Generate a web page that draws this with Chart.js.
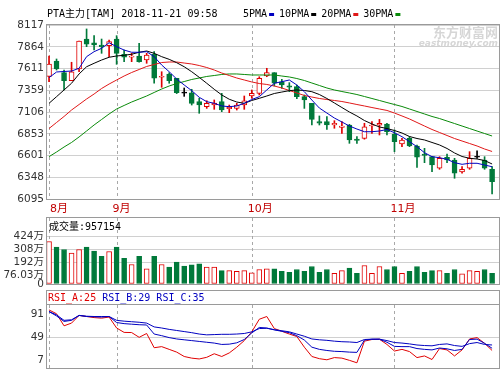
<!DOCTYPE html>
<html>
<head>
<meta charset="utf-8">
<script src="https://cdn.jsdelivr.net/npm/chart.js@4.4.1/dist/chart.umd.min.js"></script>
<style>
  html, body { margin: 0; padding: 0; background: #fff; }
  #box { position: relative; width: 504px; height: 377px; overflow: hidden; background: #fff; }
  #box canvas { position: absolute; left: 0; }
</style>
</head>
<body>
<div id="box">
  <canvas id="kline" width="504" height="216" style="top:0px"></canvas>
  <canvas id="vol" width="504" height="72" style="top:216px"></canvas>
  <canvas id="rsi" width="504" height="89" style="top:288px"></canvas>
</div>
<script>
// 月份 (first trading bar of each month)
const monthLabels = ["8月", "9月", "10月", "11月"];
const monthStarts = [0, 9, 27, 46];

// daily K line
const opens = [7520, 7699, 7563, 7470, 7606, 7954, 7911, 7885, 7877, 7954,
  7776, 7742, 7757, 7710, 7776, 7510, 7548, 7498, 7325, 7330,
  7226, 7168, 7187, 7226, 7145, 7148, 7187, 7292, 7323, 7524,
  7563, 7458, 7410, 7400, 7284, 7207, 6994, 6994, 6955, 6928,
  6955, 6790, 6800, 6943, 6952, 6967, 6850, 6735, 6800, 6711,
  6617, 6587, 6452, 6580, 6548, 6409, 6452, 6580, 6548, 6440];
const closes = [7664, 7606, 7470, 7574, 7931, 7893, 7885, 7865, 7923, 7788,
  7742, 7757, 7691, 7768, 7498, 7520, 7470, 7330, 7325, 7207,
  7187, 7207, 7210, 7129, 7160, 7187, 7237, 7323, 7498, 7563,
  7440, 7420, 7395, 7284, 7246, 7020, 6975, 6955, 6975, 6943,
  6781, 6775, 6935, 6955, 6975, 6877, 6761, 6781, 6711, 6580,
  6600, 6490, 6568, 6548, 6394, 6440, 6568, 6580, 6452, 6296];
const highs = [7757, 7722, 7594, 7684, 7931, 8071, 7993, 7954, 7943, 7993,
  7827, 7788, 7904, 7788, 7807, 7574, 7563, 7498, 7385, 7370,
  7265, 7237, 7246, 7323, 7187, 7207, 7292, 7362, 7516, 7614,
  7563, 7486, 7447, 7420, 7304, 7207, 7060, 7052, 7005, 6994,
  6963, 6820, 6975, 6994, 7020, 6975, 6897, 6800, 6820, 6723,
  6684, 6587, 6587, 6618, 6568, 6471, 6645, 6656, 6587, 6471];
const lows = [7459, 7594, 7362, 7470, 7574, 7865, 7827, 7788, 7749, 7660,
  7691, 7691, 7684, 7672, 7440, 7393, 7440, 7320, 7288, 7187,
  7091, 7148, 7137, 7110, 7098, 7129, 7137, 7265, 7304, 7516,
  7408, 7381, 7342, 7260, 7148, 6955, 6955, 6905, 6917, 6858,
  6742, 6742, 6790, 6858, 6839, 6839, 6645, 6703, 6703, 6463,
  6517, 6413, 6440, 6517, 6336, 6394, 6440, 6568, 6440, 6153];

// moving averages
const ma5 = [7505, 7571, 7577, 7582, 7614, 7749, 7807, 7846, 7911, 7865,
  7826, 7800, 7800, 7807, 7749, 7652, 7574, 7489, 7420, 7354,
  7277, 7226, 7207, 7176, 7168, 7176, 7207, 7251, 7284, 7362,
  7440, 7458, 7478, 7420, 7342, 7245, 7152, 7094, 7036, 6990,
  6943, 6908, 6877, 6877, 6885, 6903, 6865, 6819, 6761, 6703,
  6633, 6587, 6575, 6556, 6517, 6498, 6510, 6510, 6490, 6470];
const ma10 = [7207, 7284, 7362, 7440, 7548, 7632, 7672, 7710, 7742, 7757,
  7765, 7777, 7800, 7815, 7788, 7749, 7718, 7679, 7632, 7574,
  7509, 7440, 7370, 7304, 7254, 7222, 7207, 7240, 7265, 7292,
  7321, 7338, 7354, 7362, 7356, 7342, 7309, 7263, 7211, 7158,
  7106, 7060, 7007, 6967, 6932, 6914, 6891, 6862, 6821, 6798,
  6781, 6752, 6723, 6682, 6630, 6589, 6568, 6560, 6542, 6502];
const ma20 = [6914, 6984, 7054, 7129, 7193, 7257, 7315, 7379, 7431, 7478,
  7524, 7565, 7600, 7635, 7658, 7681, 7687, 7687, 7675, 7664,
  7646, 7623, 7594, 7559, 7530, 7501, 7478, 7455, 7437, 7426,
  7408, 7385, 7356, 7327, 7298, 7280, 7263, 7251, 7240, 7228,
  7211, 7193, 7176, 7158, 7141, 7124, 7094, 7060, 7025, 6984,
  6943, 6903, 6868, 6833, 6798, 6769, 6740, 6711, 6676, 6647];
const ma30 = [6587, 6641, 6699, 6752, 6816, 6885, 6955, 7019, 7083, 7141,
  7182, 7222, 7257, 7292, 7333, 7373, 7408, 7437, 7460, 7484,
  7501, 7519, 7530, 7542, 7548, 7548, 7542, 7536, 7536, 7536,
  7536, 7524, 7513, 7495, 7472, 7443, 7414, 7385, 7362, 7344,
  7327, 7309, 7286, 7263, 7240, 7216, 7193, 7170, 7141, 7112,
  7083, 7054, 7030, 7001, 6972, 6943, 6914, 6885, 6856, 6827];
const maNames = ["5PMA", "10PMA", "20PMA", "30PMA"];

// 成交量 in 万
const volumes = [379, 329, 308, 275, 308, 329, 293, 246, 290, 329,
  230, 174, 248, 136, 248, 174, 150, 195, 159, 171,
  180, 150, 150, 120, 120, 114, 120, 100, 129, 136,
  136, 114, 105, 129, 114, 156, 105, 129, 96, 120,
  141, 96, 165, 96, 156, 129, 156, 96, 114, 156,
  105, 120, 120, 96, 129, 91, 120, 114, 129, 95.7];

// RSI
const rsiA = [99, 92, 70, 75, 89, 87, 85, 84, 86, 66,
  58, 57.7, 49, 56, 30, 32, 27, 22, 14, 11,
  9.5, 12.5, 19, 14, 20.5, 31, 43, 59, 82, 87,
  65, 60, 55, 50.5, 31, 14, 10, 8, 12, 11,
  7, 2.5, 42, 45, 45.5, 36, 24, 27, 23, 12,
  15, 8.5, 28.5, 26, 15, 26, 46, 48.5, 38, 25];
const rsiB = [96, 88, 78, 80, 89, 87, 86.5, 86, 87, 76,
  74, 73, 72, 71.5, 55, 52, 48.5, 46, 44.5, 43,
  41.5, 40, 38.5, 36, 36.5, 39, 45, 57, 67, 66,
  62.5, 60, 57.5, 52, 44, 31, 27, 25, 23.5, 23,
  22, 21.5, 44, 45.5, 45.5, 40, 32.5, 32, 32, 28.5,
  27, 26, 29.5, 28, 25, 27, 45, 45.7, 38, 29];
const rsiC = [96, 90, 80, 81, 89, 87.5, 87, 87, 87, 80,
  78.5, 77.5, 76.5, 75, 68, 66, 63.5, 61.5, 59.5, 57.5,
  55, 53.5, 54, 54.5, 54.5, 55, 56, 59, 65, 65.5,
  63, 61, 59, 55, 51, 46, 44.5, 43.5, 42, 41,
  40.5, 39.5, 45, 45.7, 45.7, 43, 39.5, 38.5, 37, 35,
  34, 33.5, 36, 37, 34, 32.5, 37.5, 39.5, 36, 35];

// axis ticks
const priceTicks = [6095, 6348, 6601, 6853, 7106, 7359, 7611, 7864, 8117];
const volTicks = [0, 76.03, 192.03, 308.03, 424.03];
const volTickLabels = ["0", "76.03万", "192万", "308万", "424万"];
const rsiTicks = [7, 49, 91];

const RED = "#e00000";
const GREEN = "#00793a";
const BLUE = "#0000c0";
const GRID = "#d0d0d0";
const FRAME = "#9a9a9a";
const DASH = "#a8a8a8";
const MONO = "10px 'DejaVu Sans Mono', 'Noto Sans CJK SC'";
const maColors = [BLUE, "#000000", "#e01818", "#0a8a0a"];

function dir(i) {
  if (closes[i] > opens[i]) return 1;
  if (closes[i] < opens[i]) return -1;
  return 0;
}
function volDir(i) {
  const d = dir(i);
  if (d !== 0) return d;
  return closes[i] >= closes[i - 1] ? 1 : -1;
}
function colorOf(d) {
  return d > 0 ? RED : d < 0 ? GREEN : "#000";
}

Chart.defaults.font.family = "'DejaVu Sans', 'Noto Sans CJK SC'";
Chart.defaults.font.size = 10.5;
Chart.defaults.color = "#333";

function xAxis(h) {
  return {
    type: "linear",
    min: -0.27,
    max: 59.92,
    offset: false,
    afterFit: (s) => {
      s.height = h;
      s.paddingLeft = 0;
      s.paddingRight = 0;
    },
    ticks: { display: false },
    grid: { display: false },
    border: { display: false },
  };
}

function yAxis(min, max, values, labels, gridOn) {
  return {
    min: min,
    max: max,
    afterBuildTicks: (s) => {
      s.ticks = values.map((v) => ({ value: v }));
    },
    afterFit: (s) => {
      s.width = 47;
      s.paddingTop = 0;
      s.paddingBottom = 0;
    },
    ticks: { padding: 3, autoSkip: false, callback: (v, i) => labels[i] },
    grid: {
      drawTicks: false,
      color: (c) => (c.tick && gridOn.includes(c.tick.value) ? GRID : "transparent"),
    },
    border: { display: false },
  };
}

// dashed month separators, same in every panel
const monthLines = {
  id: "monthLines",
  beforeDatasetsDraw(chart) {
    const { ctx, chartArea: a, scales } = chart;
    ctx.save();
    ctx.strokeStyle = DASH;
    ctx.lineWidth = 1;
    ctx.setLineDash([3, 3]);
    monthStarts.forEach((v) => {
      const px = Math.round(scales.x.getPixelForValue(v)) + 0.5;
      ctx.beginPath();
      ctx.moveTo(px, a.top);
      ctx.lineTo(px, a.bottom);
      ctx.stroke();
    });
    ctx.restore();
  },
};

const common = {
  animation: false,
  responsive: false,
  events: [],
  plugins: { legend: { display: false }, tooltip: { enabled: false } },
};

function series(arr) {
  return arr.map((v, i) => ({ x: i, y: v }));
}

// ---- K line ----
const klineDecor = {
  id: "klineDecor",
  beforeDatasetsDraw(chart) {
    const ctx = chart.ctx;
    ctx.save();
    ctx.fillStyle = "#d6d6d6";
    ctx.textAlign = "right";
    ctx.textBaseline = "middle";
    ctx.font = "bold 13px 'Noto Sans CJK SC'";
    ctx.fillText("东方财富网", 498, 32);
    ctx.font = "bold italic 9px 'DejaVu Sans'";
    ctx.fillText("eastmoney.com", 498, 44);
    ctx.restore();
  },
  afterDraw(chart) {
    const { ctx, chartArea: a, scales } = chart;
    ctx.save();
    ctx.strokeStyle = FRAME;
    ctx.lineWidth = 1;
    ctx.strokeRect(a.left - 0.5, a.top - 0.5, a.width + 1, a.height + 1);
    ctx.font = MONO;
    ctx.textBaseline = "middle";
    ctx.textAlign = "left";
    ctx.fillStyle = "#000";
    ctx.fillText("PTA主力[TAM] 2018-11-21 09:58", 47, 14);
    let x = 243;
    maNames.forEach((name, k) => {
      ctx.fillStyle = "#000";
      ctx.fillText(name, x, 14);
      x += ctx.measureText(name).width + 2;
      ctx.fillStyle = maColors[k];
      ctx.fillRect(x, 13, 5, 3);
      x += 10;
    });
    ctx.font = "11px 'DejaVu Sans', 'Noto Sans CJK SC'";
    ctx.fillStyle = "#c00000";
    monthStarts.forEach((v, k) => {
      const px = scales.x.getPixelForValue(v);
      ctx.fillText(monthLabels[k], Math.max(px - 4, a.left + 3), 209);
    });
    ctx.restore();
  },
};

const maSets = [ma5, ma10, ma20, ma30].map((arr, k) => ({
  type: "line",
  data: series(arr),
  borderColor: maColors[k],
  borderWidth: 1,
  pointRadius: 0,
  tension: 0,
  order: 0,
}));

new Chart(document.getElementById("kline"), {
  type: "bar",
  data: {
    datasets: [
      ...maSets,
      {
        data: opens.map((o, i) => ({ x: i, y: [Math.min(o, closes[i]), Math.max(o, closes[i])] })),
        backgroundColor: (c) => (dir(c.dataIndex) > 0 ? "#fff" : colorOf(dir(c.dataIndex))),
        borderColor: (c) => colorOf(dir(c.dataIndex)),
        borderWidth: 1,
        borderSkipped: false,
        barThickness: 5,
        minBarLength: 1,
        grouped: false,
        order: 1,
      },
      {
        data: lows.map((l, i) => ({ x: i, y: [l, highs[i]] })),
        backgroundColor: (c) => colorOf(dir(c.dataIndex)),
        borderWidth: 0,
        barThickness: 1,
        minBarLength: 1,
        grouped: false,
        order: 2,
      },
    ],
  },
  options: {
    ...common,
    layout: { padding: { top: 25, right: 5, bottom: 0, left: 0 } },
    scales: {
      x: xAxis(17),
      y: yAxis(6095, 8117, priceTicks, priceTicks.map(String), priceTicks),
    },
  },
  plugins: [monthLines, klineDecor],
});

// ---- 成交量 ----
const volDecor = {
  id: "volDecor",
  afterDraw(chart) {
    const { ctx, chartArea: a } = chart;
    ctx.save();
    ctx.strokeStyle = FRAME;
    ctx.lineWidth = 1;
    ctx.strokeRect(a.left - 0.5, a.top - 0.5, a.width + 1, a.height + 1);
    ctx.font = MONO;
    ctx.textBaseline = "middle";
    ctx.fillStyle = "#000";
    ctx.fillText("成交量:957154", 49, 11.5);
    ctx.restore();
  },
};

new Chart(document.getElementById("vol"), {
  type: "bar",
  data: {
    datasets: [
      {
        data: series(volumes),
        backgroundColor: (c) => (volDir(c.dataIndex) > 0 ? "#fff" : GREEN),
        borderColor: (c) => colorOf(volDir(c.dataIndex)),
        borderWidth: 1,
        borderSkipped: false,
        barThickness: 5,
        grouped: false,
      },
    ],
  },
  options: {
    ...common,
    layout: { padding: { top: 2, right: 5, bottom: 4, left: 0 } },
    scales: {
      x: xAxis(0),
      y: yAxis(0, 589, volTicks, volTickLabels, [192.03, 308.03, 424.03]),
    },
  },
  plugins: [monthLines, volDecor],
});

// ---- RSI ----
const rsiDecor = {
  id: "rsiDecor",
  afterDraw(chart) {
    const { ctx, chartArea: a } = chart;
    ctx.save();
    ctx.strokeStyle = FRAME;
    ctx.lineWidth = 1;
    ctx.strokeRect(a.left - 0.5, 2.5, a.width + 1, a.bottom - 2);
    ctx.beginPath();
    ctx.moveTo(a.left, a.top - 0.5);
    ctx.lineTo(a.right, a.top - 0.5);
    ctx.stroke();
    ctx.font = MONO;
    ctx.textBaseline = "middle";
    const parts = [["RSI_A:25", RED], ["RSI_B:29", BLUE], ["RSI_C:35", BLUE]];
    let x = 48;
    parts.forEach(([t, col]) => {
      ctx.fillStyle = col;
      ctx.fillText(t, x, 10.5);
      x += ctx.measureText(t + " ").width;
    });
    ctx.restore();
  },
};

new Chart(document.getElementById("rsi"), {
  type: "line",
  data: {
    datasets: [
      { data: series(rsiC), borderColor: BLUE },
      { data: series(rsiB), borderColor: BLUE },
      { data: series(rsiA), borderColor: RED },
    ].map((d) => ({ ...d, borderWidth: 1, pointRadius: 0, tension: 0 })),
  },
  options: {
    ...common,
    layout: { padding: { top: 17, right: 5, bottom: 9, left: 0 } },
    scales: {
      x: xAxis(0),
      y: yAxis(-7, 108, rsiTicks, rsiTicks.map(String), [49]),
    },
  },
  plugins: [monthLines, rsiDecor],
});
</script>
</body>
</html>
